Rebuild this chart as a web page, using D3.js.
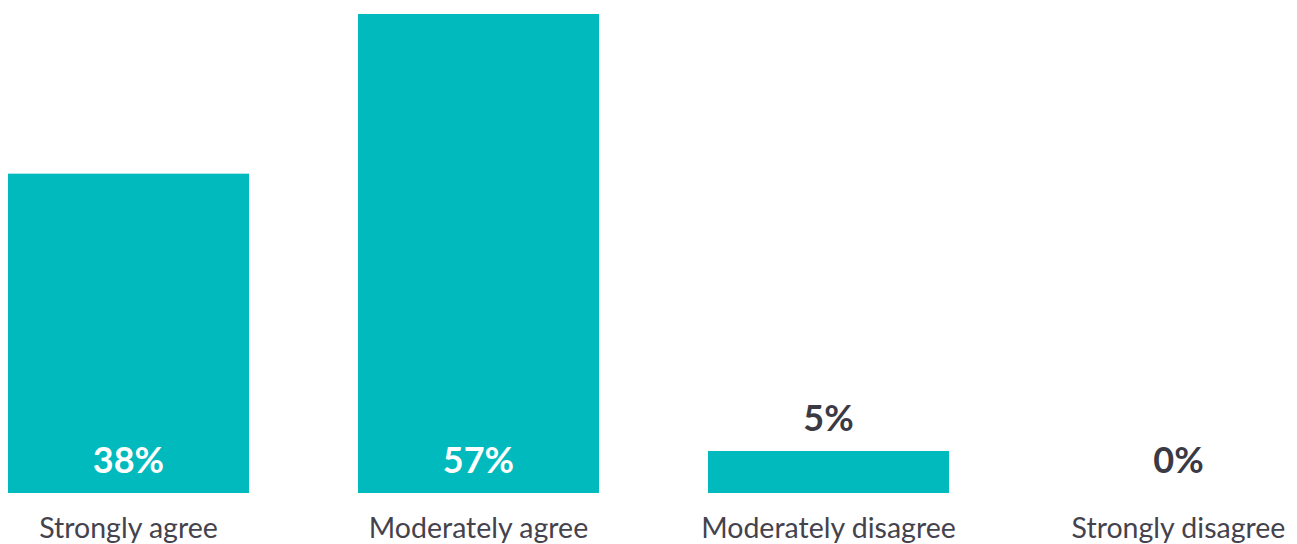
<!DOCTYPE html>
<html>
<head>
<meta charset="utf-8">
<script src="https://cdn.jsdelivr.net/npm/d3@7"></script>
<style>
  body { margin: 0; background: #fff; }
  svg { display: block; font-family: Lato, "Open Sans", sans-serif; }
</style>
</head>
<body>
<script>
// answers and shares (percent)
const categories = ["Strongly agree", "Moderately agree", "Moderately disagree", "Strongly disagree"];
const values = [38, 57, 5, 0];

const width = 1297;
const height = 544;
const baseY = 493;

var svg = d3.select("body").append("svg")
    .attr("width", width)
    .attr("height", height);

var xscale = d3.scaleBand()
    .domain(categories)
    .range([8, 1299])
    .paddingInner(0.3114)
    .paddingOuter(0);

var yscale = d3.scaleLinear()
    .domain([0, 57])
    .range([baseY, 14]);

svg.selectAll("rect.bar")
    .data(values)
    .enter().append("rect")
    .attr("class", "bar")
    .attr("x", (d, i) => xscale(categories[i]))
    .attr("y", d => yscale(d))
    .attr("width", xscale.bandwidth())
    .attr("height", d => baseY - yscale(d))
    .attr("fill", "#00babd");

// value labels: inside the bar when it is tall enough, else above it
svg.selectAll("text.val")
    .data(values)
    .enter().append("text")
    .attr("class", "val")
    .attr("x", (d, i) => xscale(categories[i]) + xscale.bandwidth() / 2)
    .attr("y", d => (baseY - yscale(d) > 60 ? baseY : yscale(d)) - 20)
    .attr("text-anchor", "middle")
    .attr("font-size", 36)
    .attr("font-weight", "bold")
    .attr("fill", d => baseY - yscale(d) > 60 ? "#ffffff" : "#3b3a44")
    .text(d => d + "%");

// category labels
svg.append("g")
    .attr("transform", "translate(0," + baseY + ")")
    .call(d3.axisBottom(xscale).tickSize(0).tickPadding(0))
    .call(g => g.select(".domain").remove())
    .call(g => g.selectAll("text")
        .attr("y", 45)
        .attr("dy", 0)
        .attr("font-size", 28.5)
        .attr("font-family", "Lato, 'Open Sans', sans-serif")
        .attr("fill", "#44434d"));
</script>
</body>
</html>
